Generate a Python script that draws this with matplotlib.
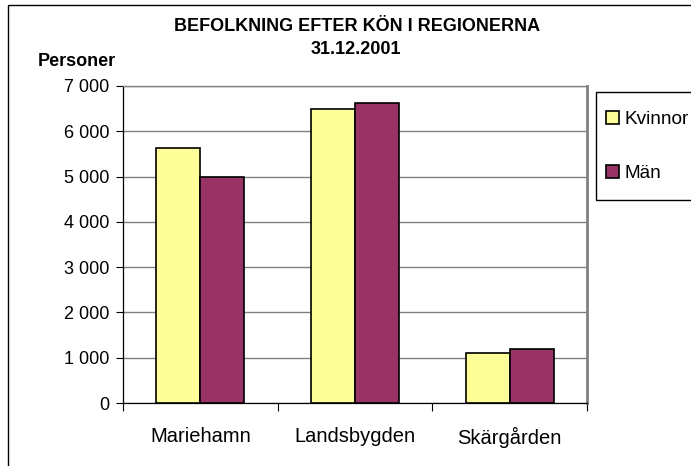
import numpy as np
import matplotlib
matplotlib.use("Agg")
import matplotlib.pyplot as plt
from matplotlib.patches import Rectangle

# data
regions = ["Mariehamn", "Landsbygden", "Skärgården"]
kvinnor = [5630, 6490, 1110]
man = [4990, 6620, 1200]
series_names = ["Kvinnor", "Män"]
yticks = [0, 1000, 2000, 3000, 4000, 5000, 6000, 7000]

plt.rcParams["font.family"] = ["Liberation Sans", "DejaVu Sans"]

W, H = 691, 466
fig = plt.figure(figsize=(W / 100, H / 100), dpi=100)

# outer chart border (runs off the right and bottom edges)
fig.patches.append(Rectangle((8 / W, -0.1), 1.2, 1 - 5 / H + 0.1,
                             transform=fig.transFigure, fill=False,
                             edgecolor="black", linewidth=1.0))
# legend frame (also cut off at the right edge)
fig.patches.append(Rectangle((596 / W, 1 - 200 / H), 0.3, 108 / H,
                             transform=fig.transFigure, fill=False,
                             edgecolor="black", linewidth=1.0))

ax = fig.add_axes([123 / W, 1 - 403 / H, (587 - 123) / W, (403 - 86) / H])

x = np.arange(len(regions))
bw = 0.284
ax.bar(x - bw / 2, kvinnor, bw, color="#FFFF99", edgecolor="black",
       linewidth=1.2, label=series_names[0], zorder=3)
ax.bar(x + bw / 2, man, bw, color="#993366", edgecolor="black",
       linewidth=1.2, label=series_names[1], zorder=3)

ax.set_xlim(-0.5, len(regions) - 0.5)
ax.set_ylim(0, 7000)

ax.set_yticks(yticks)
ax.set_yticklabels([f"{v:,}".replace(",", " ") for v in yticks], fontsize=13)
ax.yaxis.grid(True, color="#808080", linewidth=1.0, zorder=0)
ax.tick_params(axis="y", direction="out", length=5, width=0.8, pad=5)

ax.set_xticks(x)
ax.set_xticklabels(regions, fontsize=14.5)
ax.set_xticks(np.arange(-0.5, len(regions), 1), minor=True)
ax.tick_params(axis="x", which="major", length=0, pad=17)
ax.tick_params(axis="x", which="minor", direction="out", length=6, width=0.8)

for s in ["top", "right"]:
    ax.spines[s].set_color("#808080")
ax.spines["right"].set_linewidth(2.0)
ax.spines["top"].set_linewidth(1.0)
ax.spines["left"].set_linewidth(0.9)
ax.spines["bottom"].set_linewidth(0.9)

fig.text(357 / W, 1 - 26.5 / H, "BEFOLKNING EFTER KÖN I REGIONERNA",
         ha="center", va="center", fontsize=13, fontweight="bold")
fig.text(356 / W, 1 - 50 / H, "31.12.2001", ha="center", va="center",
         fontsize=13, fontweight="bold")
fig.text(38 / W, 1 - 61 / H, "Personer", ha="left", va="center",
         fontsize=13, fontweight="bold")

fig.legend(loc="center left", bbox_to_anchor=(606 / W, 1 - 146.5 / H),
           fontsize=13.7, frameon=False, borderaxespad=0, borderpad=0,
           handlelength=0.7, handleheight=0.7, handletextpad=0.25,
           labelspacing=1.9)

fig.savefig("out.png", dpi=100)
